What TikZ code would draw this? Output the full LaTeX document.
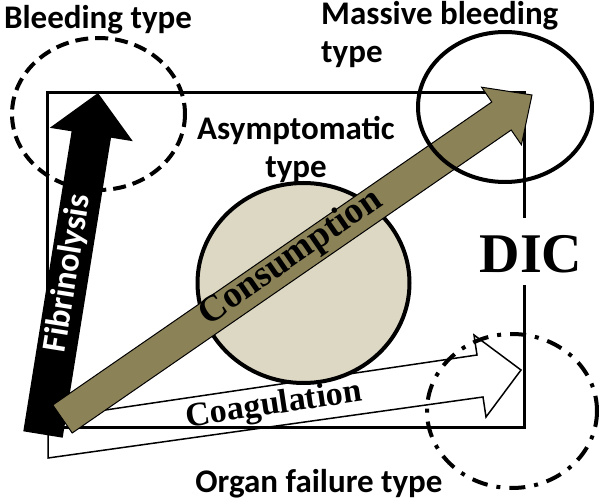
\documentclass[tikz,border=0pt]{standalone}
\usepackage{fontspec}
\setmainfont{Liberation Serif}
\newfontfamily\calib{Carlito}
\definecolor{olive}{RGB}{140,130,88}
\definecolor{beige}{RGB}{221,216,196}
\begin{document}
\begin{tikzpicture}[x=1pt,y=-1pt,
  lab/.style={font=\calib\bfseries\fontsize{33}{38}\selectfont, inner sep=0pt},
  frame/.style={line width=3pt, line cap=rect},
  ring/.style={line width=4pt},
  serifb/.style={font=\bfseries\fontsize{#1}{#1}\selectfont, inner sep=0pt}
]
\useasboundingbox (0,0) rectangle (600,502);
% coagulation arrow (white)
\filldraw[fill=white, line width=1.5pt, line join=miter]
  (48,418.5) -- (477,355) -- (474,335) -- (521,370) -- (486,417) -- (483,397) -- (48,458) -- cycle;
% frame
\node[serifb=56] (dic) at (531,254) {DIC};
\draw[frame] (524,217) -- (524,93) -- (47,93) -- (47,428) -- (524,428) -- (524,287);
% asymptomatic circle
\draw[ring, fill=beige] (303.5,283) ellipse [x radius=106, y radius=100];
% coagulation label
\node[serifb=34, rotate=8.5] (coag) at (274,406) {Coagulation};
% fibrinolysis arrow (black)
\fill[black] (23.3,431.3) -- (71.6,131.3) -- (49.8,127.8) -- (98,93) -- (132.8,141.2) -- (111.0,137.7) -- (62.7,437.7) -- cycle;
\node[font=\calib\bfseries\fontsize{34}{34}\selectfont, text=white, inner sep=0pt, rotate=80.9] (fib) at (68,273.5) {Fibrinolysis};
% consumption arrow (olive)
\filldraw[fill=olive, line width=1pt, line join=miter]
  (52.8,405) -- (491.8,102.0) -- (481.6,87.2) -- (532,95) -- (521.4,144.8) -- (511.2,130.0) -- (72.2,433) -- cycle;
\node[serifb=37, rotate=34.6] (cons) at (291,258) {Consumption};
% type circles
\draw[ring, dash pattern=on 13pt off 7pt] (98.5,114) ellipse [x radius=86.5, y radius=76];
\draw[ring] (505,107) ellipse [x radius=87, y radius=75];
\draw[ring, dash pattern=on 16pt off 9pt on 4pt off 9pt] (512,411) ellipse [x radius=85, y radius=77];
% labels
\node[lab] (bleed) at (98,20) {Bleeding type};
\node[lab, anchor=north west, align=left] (massive) at (321,1) {Massive bleeding\\type};
\node[lab, align=center, anchor=north] (asym) at (296,116) {Asymptomatic\\type};
\node[lab] (organ) at (319,484) {Organ failure type};
\end{tikzpicture}
\end{document}
